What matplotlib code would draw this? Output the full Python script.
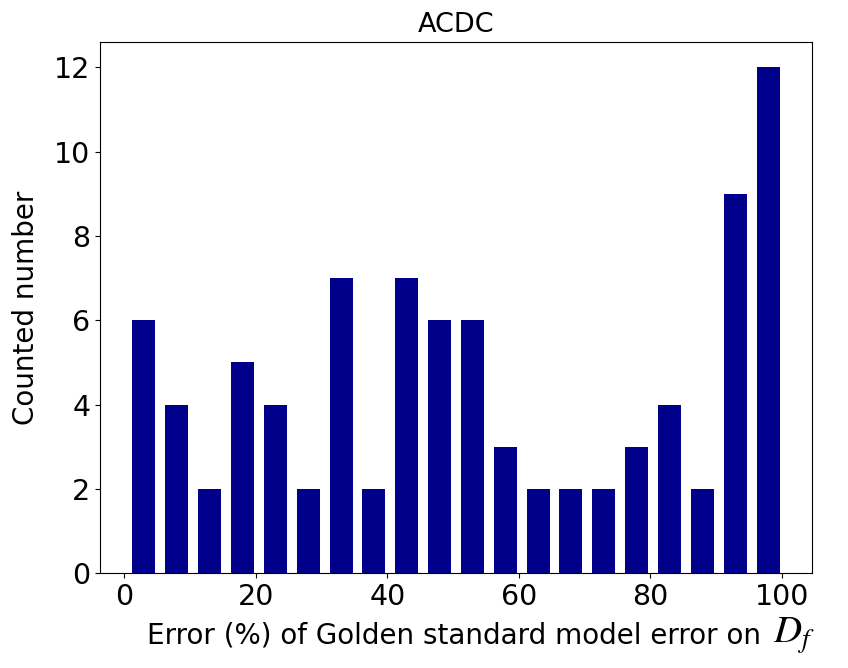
import numpy as np
import matplotlib
matplotlib.use("Agg")
import matplotlib.pyplot as plt

plt.rcParams['mathtext.fontset'] = 'stix'

# Histogram counts per bin (20 bins over the observed error range)
counts = [6, 4, 2, 5, 4, 2, 7, 2, 7, 6, 6, 3, 2, 2, 2, 3, 4, 2, 9, 12]
range_lo = 0.5
range_hi = 100.4
title = "ACDC"
xlabel_text = "Error (%) of Golden standard model error on "
xlabel_math = "$D_f$"
ylabel = "Counted number"
xticks = [0, 20, 40, 60, 80, 100]
yticks = [0, 2, 4, 6, 8, 10, 12]

edges = np.linspace(range_lo, range_hi, len(counts) + 1)
centers = (edges[:-1] + edges[1:]) / 2

fig = plt.figure(figsize=(8.48, 6.68), dpi=100)
ax = fig.add_axes([0.118, 0.142, 0.8395, 0.795])
ax.hist(centers, bins=edges, weights=counts, rwidth=0.7, color='#00008B')
ax.set_title(title, fontsize=19.5, pad=7)
ax.set_ylabel(ylabel, fontsize=20, labelpad=10)
ax.set_xticks(xticks)
ax.set_yticks(yticks)
ax.tick_params(labelsize=20.5)

# x label: plain text followed by a larger italic math symbol
base_y = 0.037
t = fig.text(0.5, base_y, xlabel_text, fontsize=20, ha='center', va='baseline')
fig.canvas.draw()
bb = t.get_window_extent()
full_w = bb.width + 42
left_px = (ax.get_window_extent().x0 + ax.get_window_extent().x1) / 2 - full_w / 2 + 23
t.set_ha('left')
t.set_x(left_px / fig.bbox.width)
fig.text((left_px + bb.width + 4) / fig.bbox.width, base_y, xlabel_math,
         fontsize=28, ha='left', va='baseline')
fig.savefig("out.png", dpi=100)
